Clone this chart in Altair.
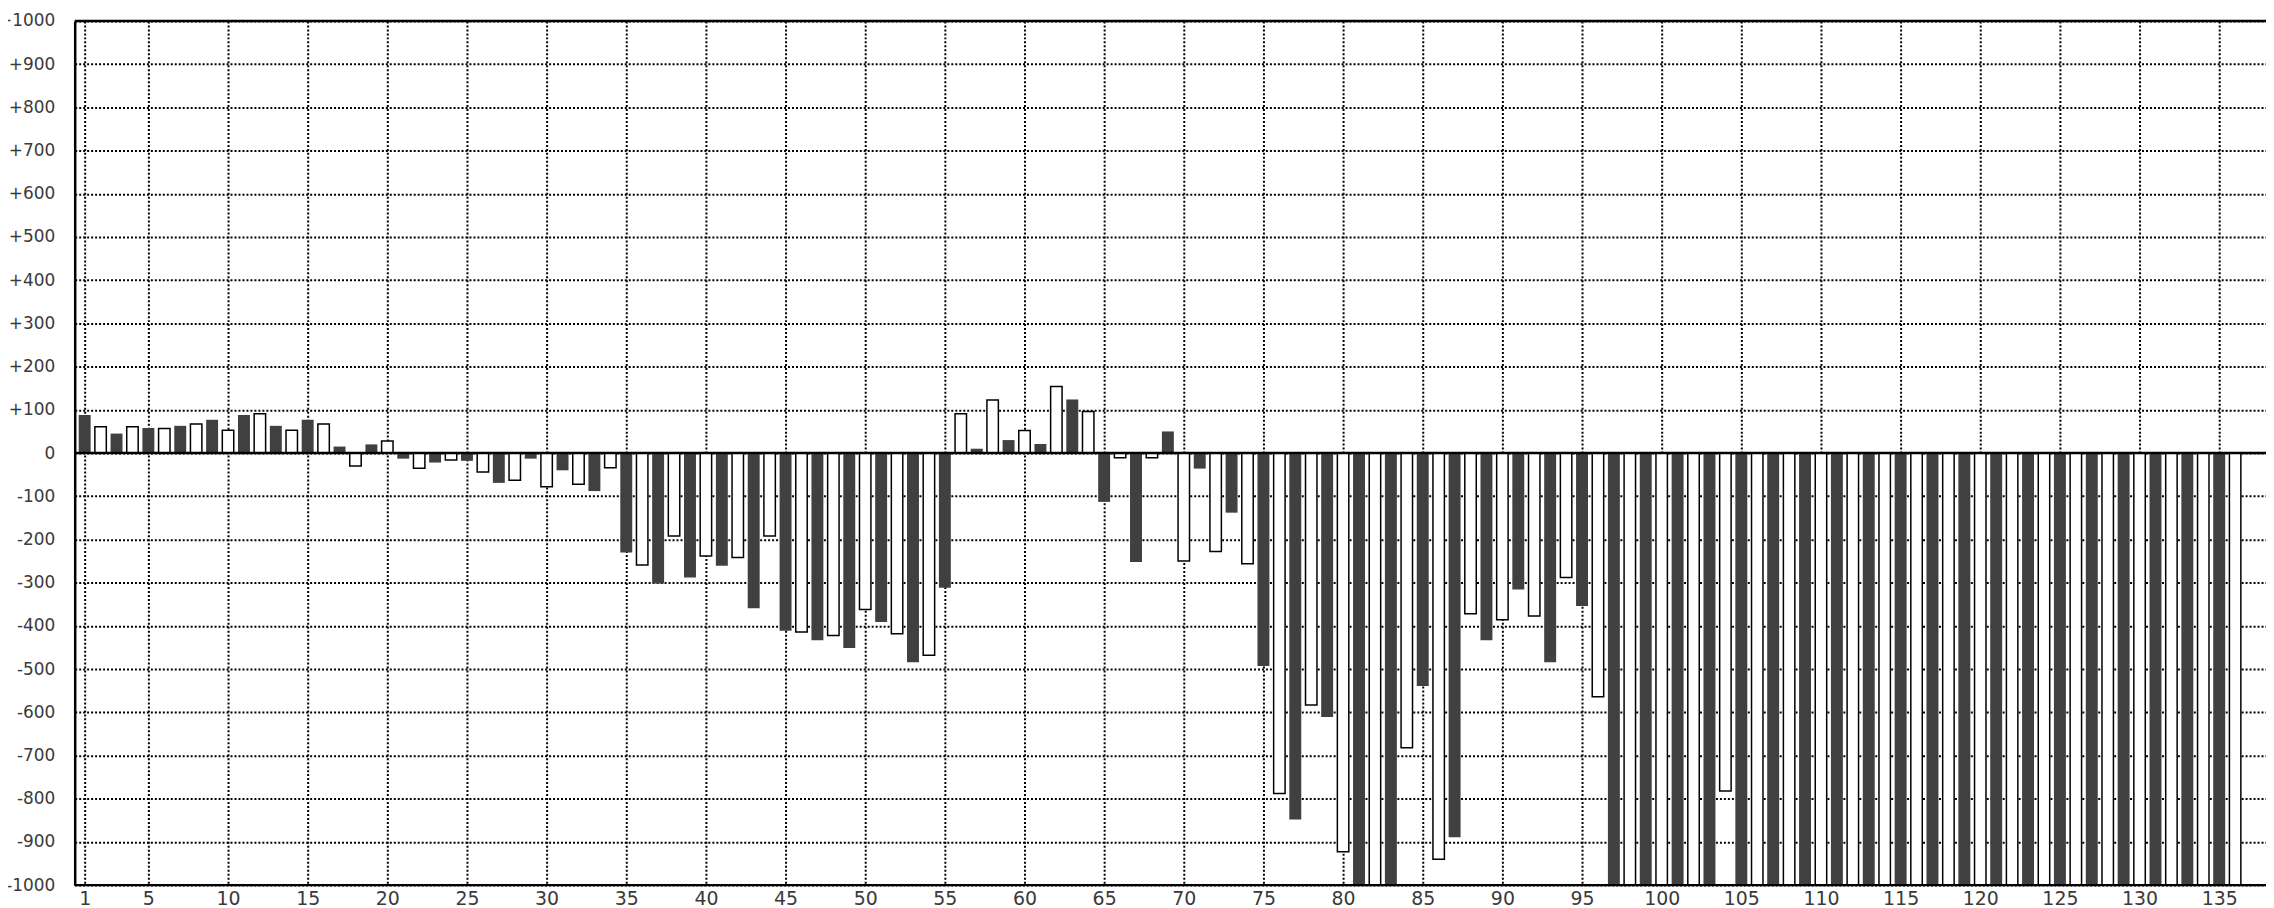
import altair as alt
import pandas as pd

# bar index 1..136
index = list(range(1, 137))
values = [
    88, 61, 45, 61, 58, 57, 63, 67, 77, 53,
    88, 91, 63, 53, 77, 67, 15, -30, 20, 28,
    -13, -35, -22, -16, -18, -44, -69, -63, -13, -78,
    -40, -72, -88, -34, -230, -259, -302, -192, -288, -238,
    -261, -242, -359, -192, -411, -414, -433, -422, -451, -362,
    -391, -418, -484, -468, -312, 91, 10, 123, 30, 52,
    21, 154, 124, 96, -113, -11, -252, -11, 50, -250,
    -36, -228, -138, -256, -493, -788, -848, -583, -611, -923,
    -1000, -1000, -1000, -682, -539, -940, -889, -372, -433, -386,
    -316, -377, -484, -288, -354, -564, -1000, -1000, -1000, -1000,
    -1000, -1000, -1000, -782, -1000, -1000, -1000, -1000, -1000, -1000,
    -1000, -1000, -1000, -1000, -1000, -1000, -1000, -1000, -1000, -1000,
    -1000, -1000, -1000, -1000, -1000, -1000, -1000, -1000, -1000, -1000,
    -1000, -1000, -1000, -1000, -1000, -1000,
]
x_ticks = [1] + list(range(5, 136, 5))
y_ticks = list(range(-1000, 1001, 100))

df = pd.DataFrame({"n": index, "v": values})
df["kind"] = ["dark" if n % 2 == 1 else "light" for n in index]
dark_df = df[df["kind"] == "dark"]
light_df = df[df["kind"] == "light"]

W = 2201
H = 868
xscale = alt.Scale(domain=[0.375, 0.375 + W / 16], nice=False, zero=False, padding=0)
yscale = alt.Scale(domain=[-1000, 1000], nice=False, padding=0)

xaxis = alt.Axis(
    values=x_ticks, grid=True, gridDash=[2, 2], gridColor="black", gridWidth=2,
    gridOpacity=1, ticks=False, domain=False, labelFont="DejaVu Sans",
    labelFontSize=19, labelColor="#3a3a3a", labelPadding=4, title=None,
    labelOverlap=False,
)
yaxis = alt.Axis(
    values=y_ticks, grid=True, gridDash=[2, 2], gridColor="black", gridWidth=2,
    gridOpacity=1, ticks=False, domain=True, domainColor="black", domainWidth=2.5,
    labelFont="DejaVu Sans", labelFontSize=17, labelColor="#3a3a3a",
    labelPadding=20, title=None, labelOverlap=False,
    labelExpr="datum.value > 0 ? '+' + datum.value : '' + datum.value",
)

dark = alt.Chart(dark_df).mark_bar(size=12, color="#404040").encode(
    x=alt.X("n:Q", scale=xscale, axis=xaxis),
    y=alt.Y("v:Q", scale=yscale, axis=yaxis),
)
light = alt.Chart(light_df).mark_bar(
    size=11.5, fill="white", stroke="black", strokeWidth=1.5
).encode(
    x=alt.X("n:Q", scale=xscale),
    y=alt.Y("v:Q", scale=yscale),
)

frame_df = pd.DataFrame({"y": [1000, 0, -1000]})
rules = alt.Chart(frame_df).mark_rule(color="black", strokeWidth=2.5).encode(
    y=alt.Y("y:Q", scale=yscale),
    x=alt.value(0),
    x2=alt.value(W),
)

chart = alt.layer(dark, light, rules).properties(
    width=W,
    height=H,
    autosize=alt.AutoSizeParams(type="none"),
    padding={"left": 67, "top": 11, "right": 0, "bottom": 30},
).configure_view(stroke=None)

chart.save("out.html", embed_options={"renderer": "svg", "actions": False})
